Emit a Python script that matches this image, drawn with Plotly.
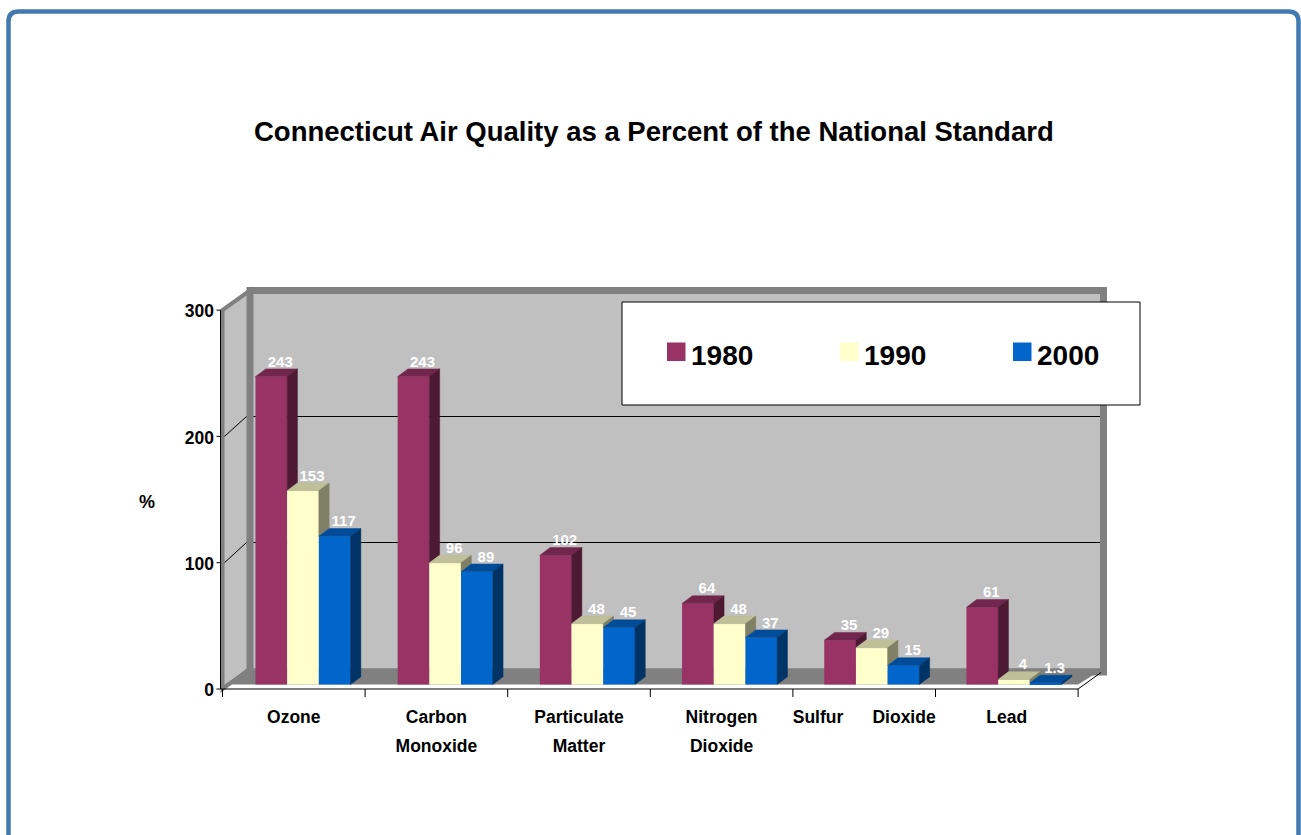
import plotly.graph_objects as go

W, H = 1301, 835

# ---- data -------------------------------------------------------------
CATEGORY_LINES = [
    ["Ozone"],
    ["Carbon", "Monoxide"],
    ["Particulate", "Matter"],
    ["Nitrogen", "Dioxide"],
    ["Sulfur" + "\u00a0" * 6 + "Dioxide"],
    ["Lead"],
]
SERIES = ["1980", "1990", "2000"]
VALUES_1980 = [243, 243, 102, 64, 35, 61]
VALUES_1990 = [153, 96, 48, 48, 29, 4]
VALUES_2000 = [117, 89, 45, 37, 15, 1.3]
VALUES = [VALUES_1980, VALUES_1990, VALUES_2000]
Y_TICKS = [0, 100, 200, 300]
Y_MAX = 300
TITLE = "Connecticut Air Quality as a Percent of the National Standard"
Y_TITLE = "%"

# ---- styles -----------------------------------------------------------
FRONT_COLORS = ["#993366", "#FFFFCC", "#0066CC"]
TOP_COLORS = ["#73264D", "#BFBF99", "#004C99"]
SIDE_COLORS = ["#4D1933", "#808066", "#003366"]
WALL = "#C0C0C0"
WALL_EDGE = "#808080"
FLOOR = "#808080"
FRAME = "#4279B1"
FONT = "Arial, 'Liberation Sans', sans-serif"

# ---- geometry ---------------------------------------------------------
# The data axes span the whole page; the bar plane is laid out so that
# category i is centred at BAR_X0 + i*BAR_CAT px and value 0 sits at BAR_Y0.
BAR_X0, BAR_CAT = 303.0, 142.2
BAR_Y0, BAR_VAL = 684.5, 1.267


def X(px):
    return (px - BAR_X0) / BAR_CAT


def Y(py):
    return (BAR_Y0 - py) / BAR_VAL


def xp(px):
    return px / W


def yp(py):
    return 1 - py / H


# faces of the 3-D box: (left edge px, px per category, baseline px, px per unit)
FRONT = (222.5, 142.6, 689.0, 1.263)
BACK = (250.0, 142.25, 668.5, 1.26)


def plane_x(plane, u):
    return X(plane[0] + plane[1] * (u + 0.5))


def plane_y(plane, v):
    return Y(plane[2] - plane[3] * v)


N = len(CATEGORY_LINES)
BAR_W = 31.7 / BAR_CAT
DEPTH_X = 10.3 / BAR_CAT
DEPTH_Y = 7.7 / BAR_VAL
LABEL_DX = 9.0 / BAR_CAT
LABEL_DY = 13.8 / BAR_VAL

fig = go.Figure()

# ---- walls, floor and axes (drawn as layout shapes under the bars) -----
shapes = []


def poly(points, **kw):
    path = "M " + " L ".join(f"{x},{y}" for x, y in points) + " Z"
    return dict(type="path", path=path, xref="x", yref="y", layer="below", **kw)


def seg(x0, y0, x1, y1, color="black", width=1):
    return dict(type="line", x0=x0, y0=y0, x1=x1, y1=y1, xref="x", yref="y",
                layer="below", line=dict(color=color, width=width))


fl, fr = plane_x(FRONT, -0.5), plane_x(FRONT, N - 0.5)
bl, br = plane_x(BACK, -0.5), plane_x(BACK, N - 0.5)

# left side wall
shapes.append(poly([(fl, plane_y(FRONT, 0)), (fl, plane_y(FRONT, Y_MAX)),
                    (bl, plane_y(BACK, Y_MAX)), (bl, plane_y(BACK, 0))],
                   fillcolor=WALL, line=dict(color=WALL_EDGE, width=4)))
# back wall
shapes.append(dict(type="rect", xref="x", yref="y", layer="below",
                   x0=bl, x1=br, y0=plane_y(BACK, 0) - 3.5 / BAR_VAL,
                   y1=plane_y(BACK, Y_MAX),
                   fillcolor=WALL, line=dict(color=WALL_EDGE, width=7)))
# floor
shapes.append(poly([(X(224.5), 0), (fr, 0), (br, plane_y(BACK, 0)),
                    (bl, plane_y(BACK, 0))],
                   fillcolor=FLOOR, line=dict(width=0)))
# gridlines on the back and side walls
for v in Y_TICKS[1:-1]:
    shapes.append(seg(bl + 3.5 / BAR_CAT, plane_y(BACK, v),
                      br - 3.5 / BAR_CAT, plane_y(BACK, v)))
    shapes.append(seg(fl + 2 / BAR_CAT, plane_y(FRONT, v),
                      bl - 3.5 / BAR_CAT, plane_y(BACK, v)))

# value axis line and ticks
ax_x = X(220.5)
shapes.append(seg(ax_x, plane_y(FRONT, 0), ax_x, plane_y(FRONT, Y_MAX)))
for v in Y_TICKS:
    shapes.append(seg(X(216.5), plane_y(FRONT, v), ax_x, plane_y(FRONT, v)))

# category axis line, ticks and the receding edge at its right end
y0f = plane_y(FRONT, 0)
shapes.append(seg(ax_x, y0f, fr, y0f))
for i in range(N + 1):
    xt = plane_x(FRONT, i - 0.5)
    shapes.append(seg(xt, y0f, xt, Y(697)))
shapes.append(seg(fr, y0f, X(1101), Y(672.5)))

# ---- bars -------------------------------------------------------------
for k, (name, vals) in enumerate(zip(SERIES, VALUES)):
    fig.add_trace(go.Bar(
        x=list(range(N)), y=vals, name=name,
        width=BAR_W, offset=(k - 1.5) * BAR_W,
        marker=dict(color=FRONT_COLORS[k], line=dict(width=0)),
        showlegend=False, hoverinfo="skip",
    ))

# top and right-hand faces of each bar
for k, vals in enumerate(VALUES):
    tx, ty, sx, sy = [], [], [], []
    for i, v in enumerate(vals):
        xl = i + (k - 1.5) * BAR_W
        xr = xl + BAR_W
        tx += [xl, xr, xr + DEPTH_X, xl + DEPTH_X, xl, None]
        ty += [v, v, v + DEPTH_Y, v + DEPTH_Y, v, None]
        nxt = VALUES[k + 1][i] if k + 1 < len(VALUES) else 0
        if v > nxt:
            sx += [xr, xr, xr + DEPTH_X, xr + DEPTH_X, xr, None]
            sy += [nxt, v, v + DEPTH_Y, nxt + DEPTH_Y, nxt, None]
    fig.add_trace(go.Scatter(x=tx, y=ty, mode="lines", fill="toself",
                             fillcolor=TOP_COLORS[k],
                             line=dict(color=TOP_COLORS[k], width=0.5),
                             showlegend=False, hoverinfo="skip"))
    fig.add_trace(go.Scatter(x=sx, y=sy, mode="lines", fill="toself",
                             fillcolor=SIDE_COLORS[k],
                             line=dict(color=SIDE_COLORS[k], width=0.5),
                             showlegend=False, hoverinfo="skip"))

# value labels above the bars
for k, vals in enumerate(VALUES):
    fig.add_trace(go.Scatter(
        x=[i + (k - 1) * BAR_W + LABEL_DX for i in range(N)],
        y=[v + LABEL_DY for v in vals],
        mode="text", text=[f"{v:g}" for v in vals],
        textposition="middle center",
        textfont=dict(family=FONT, size=15, color="white", weight="bold"),
        showlegend=False, hoverinfo="skip",
    ))

# value-axis tick labels
fig.add_trace(go.Scatter(
    x=[X(214)] * len(Y_TICKS), y=[plane_y(FRONT, v) - 3 / BAR_VAL for v in Y_TICKS],
    mode="text", text=[str(v) for v in Y_TICKS], textposition="middle left",
    textfont=dict(family=FONT, size=17.5, color="black", weight="bold"),
    showlegend=False, hoverinfo="skip",
))

# category labels (one text row per line)
cx, cy, ct = [], [], []
for i, lines in enumerate(CATEGORY_LINES):
    for j, line in enumerate(lines):
        cx.append(plane_x(FRONT, i))
        cy.append(Y(719 + 29 * j))
        ct.append(line)
fig.add_trace(go.Scatter(
    x=cx, y=cy, mode="text", text=ct, textposition="middle center",
    textfont=dict(family=FONT, size=17.5, color="black", weight="bold"),
    showlegend=False, hoverinfo="skip",
))

# ---- legend box -------------------------------------------------------
annotations = []
shapes.append(dict(type="rect", xref="paper", yref="paper",
                   x0=xp(622), x1=xp(1140), y0=yp(405), y1=yp(302),
                   fillcolor="white", line=dict(color="black", width=1),
                   layer="above"))
for k, name in enumerate(SERIES):
    sx0 = 667 + 173 * k
    shapes.append(dict(type="rect", xref="paper", yref="paper",
                       x0=xp(sx0), x1=xp(sx0 + 18.5), y0=yp(361), y1=yp(342.5),
                       fillcolor=FRONT_COLORS[k], line=dict(width=0), layer="above"))
    annotations.append(dict(x=xp(sx0 + 22), y=yp(356), xref="paper", yref="paper",
                            text=name, showarrow=False, xanchor="left",
                            yanchor="middle",
                            font=dict(family=FONT, size=28, color="black",
                                      weight="bold")))

# ---- title, axis title and page frame --------------------------------
annotations.append(dict(x=xp(654), y=yp(131), xref="paper", yref="paper",
                        text=TITLE, showarrow=False, xanchor="center",
                        yanchor="middle",
                        font=dict(family=FONT, size=27.5, color="black",
                                  weight="bold")))
annotations.append(dict(x=xp(147), y=yp(502), xref="paper", yref="paper",
                        text=Y_TITLE, showarrow=False, xanchor="center",
                        yanchor="middle",
                        font=dict(family=FONT, size=18, color="black",
                                  weight="bold")))

L, T, R, B, r = 8.5, 11.5, 1298.5, 900, 10
frame = (f"M {xp(L)},{yp(B)} L {xp(L)},{yp(T + r)} "
         f"Q {xp(L)},{yp(T)} {xp(L + r)},{yp(T)} "
         f"L {xp(R - r)},{yp(T)} Q {xp(R)},{yp(T)} {xp(R)},{yp(T + r)} "
         f"L {xp(R)},{yp(B)}")
shapes.append(dict(type="path", path=frame, xref="paper", yref="paper",
                   line=dict(color=FRAME, width=4.5), layer="above"))

fig.update_layout(
    width=W, height=H, autosize=False,
    margin=dict(l=0, r=0, t=0, b=0, pad=0),
    paper_bgcolor="white", plot_bgcolor="white",
    barmode="overlay",
    xaxis=dict(range=[X(0), X(W)], visible=False, fixedrange=True),
    yaxis=dict(range=[Y(H), Y(0)], visible=False, fixedrange=True),
    shapes=shapes, annotations=annotations,
    showlegend=False,
)

fig.write_html("out.html")
